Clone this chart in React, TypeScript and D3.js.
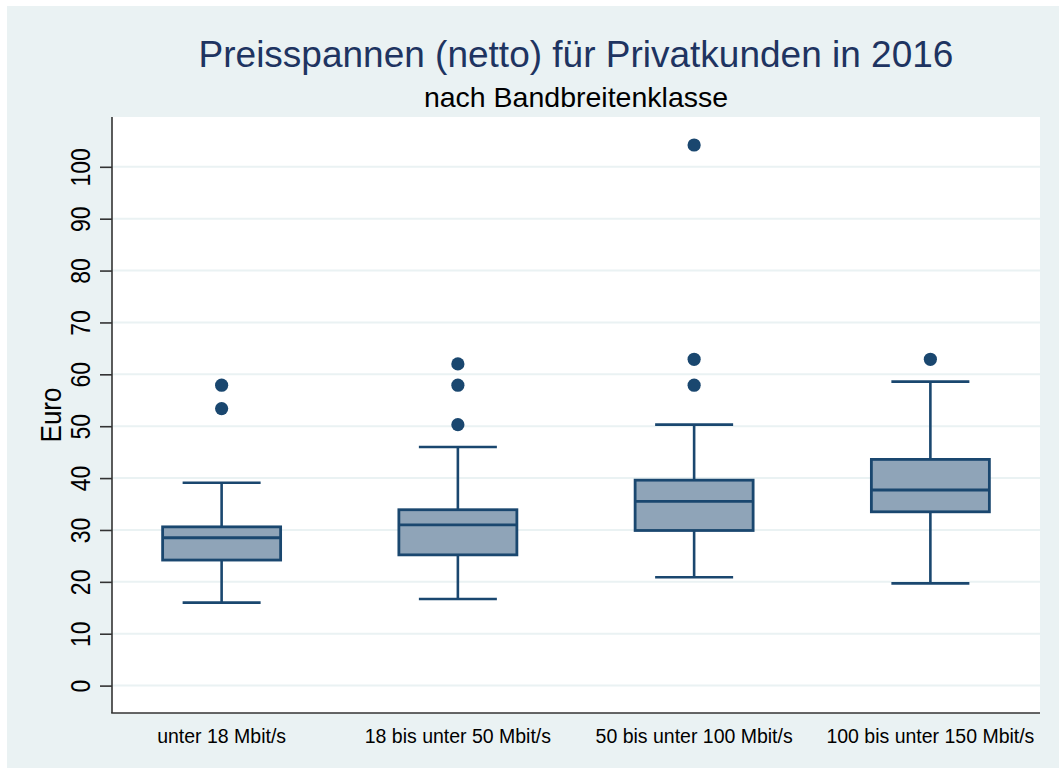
import { useEffect, useRef } from "react";
import * as d3 from "d3";

// values
const categories = [
  "unter 18 Mbit/s",
  "18 bis unter 50 Mbit/s",
  "50 bis unter 100 Mbit/s",
  "100 bis unter 150 Mbit/s",
];
const whiskerLow = [16.0, 16.7, 20.9, 19.7];
const q1 = [24.2, 25.2, 29.9, 33.5];
const median = [28.5, 31.0, 35.5, 37.7];
const q3 = [30.6, 33.9, 39.6, 43.6];
const whiskerHigh = [39.1, 46.0, 50.3, 58.6];
const outliers = [
  [53.4, 57.9],
  [50.3, 57.9, 62.0],
  [57.9, 62.9, 104.2],
  [62.9],
];
const yTicks = [0, 10, 20, 30, 40, 50, 60, 70, 80, 90, 100];

const title = "Preisspannen (netto) für Privatkunden in 2016";
const subtitle = "nach Bandbreitenklasse";
const yLabel = "Euro";

const App = () => {
  const svgRef = useRef<SVGSVGElement>(null);

  useEffect(() => {
    const w = 1059;
    const h = 769;
    const margin = { top: 117, right: 19, bottom: 56, left: 112 };
    const font = "'Liberation Sans', Arial, sans-serif";
    const navy = "#1a476f";

    const svg = d3.select(svgRef.current).attr("width", w).attr("height", h);
    svg.selectAll("*").remove();

    // outer background + plot region
    svg.append("rect")
      .attr("x", 7).attr("y", 6).attr("width", w - 7).attr("height", h - 7)
      .attr("fill", "#eaf2f3");
    svg.append("rect")
      .attr("x", margin.left).attr("y", margin.top)
      .attr("width", w - margin.left - margin.right)
      .attr("height", h - margin.top - margin.bottom)
      .attr("fill", "#ffffff");

    // scales
    const xScale = d3.scalePoint<string>()
      .domain(categories)
      .range([margin.left, w - margin.right])
      .padding(0.464);
    const yScale = d3.scaleLinear()
      .domain([-5.28, 109.6])
      .range([h - margin.bottom, margin.top]);

    // grid lines
    svg.append("g")
      .selectAll("line")
      .data(yTicks)
      .join("line")
      .attr("x1", margin.left).attr("x2", w - margin.right)
      .attr("y1", (d) => yScale(d)).attr("y2", (d) => yScale(d))
      .attr("stroke", "#eaf2f3")
      .attr("stroke-width", 2);

    // y axis
    const yAxis = d3.axisLeft(yScale).tickValues(yTicks).tickSize(12).tickPadding(0);
    const gy = svg.append("g")
      .attr("transform", `translate(${margin.left},0)`)
      .call(yAxis);
    gy.select(".domain")
      .attr("d", `M0,${margin.top}V${h - margin.bottom}`)
      .attr("stroke", "#333").attr("stroke-width", 1.6);
    gy.selectAll(".tick line").attr("stroke", "#333").attr("stroke-width", 1.6);
    gy.selectAll<SVGTextElement, number>(".tick text")
      .attr("x", null).attr("dy", null)
      .attr("transform", "translate(-22,0) rotate(-90) scale(1,1.18)")
      .attr("text-anchor", "middle")
      .style("font-family", font)
      .style("font-size", "23px")
      .attr("fill", "#000");

    // x axis line
    svg.append("line")
      .attr("x1", margin.left - 0.8).attr("x2", w - margin.right)
      .attr("y1", h - margin.bottom).attr("y2", h - margin.bottom)
      .attr("stroke", "#333").attr("stroke-width", 1.6);

    // x labels
    svg.append("g")
      .selectAll("text")
      .data(categories)
      .join("text")
      .attr("transform", (d) => `translate(${xScale(d)},742.5) scale(1,1.08)`)
      .attr("text-anchor", "middle")
      .style("font-family", font)
      .style("font-size", "19.5px")
      .text((d) => d);

    // boxes
    const boxW = 118;
    const capW = 78;
    const g = svg.append("g")
      .selectAll("g")
      .data(categories)
      .join("g")
      .attr("transform", (d) => `translate(${xScale(d)},0)`);

    // whiskers
    g.append("line")
      .attr("y1", (_d, i) => yScale(whiskerLow[i]))
      .attr("y2", (_d, i) => yScale(q1[i]))
      .attr("stroke", navy).attr("stroke-width", 2.6);
    g.append("line")
      .attr("y1", (_d, i) => yScale(q3[i]))
      .attr("y2", (_d, i) => yScale(whiskerHigh[i]))
      .attr("stroke", navy).attr("stroke-width", 2.6);
    g.append("line")
      .attr("x1", -capW / 2).attr("x2", capW / 2)
      .attr("y1", (_d, i) => yScale(whiskerLow[i]))
      .attr("y2", (_d, i) => yScale(whiskerLow[i]))
      .attr("stroke", navy).attr("stroke-width", 2.6);
    g.append("line")
      .attr("x1", -capW / 2).attr("x2", capW / 2)
      .attr("y1", (_d, i) => yScale(whiskerHigh[i]))
      .attr("y2", (_d, i) => yScale(whiskerHigh[i]))
      .attr("stroke", navy).attr("stroke-width", 2.6);

    g.append("rect")
      .attr("x", -boxW / 2)
      .attr("width", boxW)
      .attr("y", (_d, i) => yScale(q3[i]))
      .attr("height", (_d, i) => yScale(q1[i]) - yScale(q3[i]))
      .attr("fill", "#8fa4b8")
      .attr("stroke", navy)
      .attr("stroke-width", 2.8);
    g.append("line")
      .attr("x1", -boxW / 2).attr("x2", boxW / 2)
      .attr("y1", (_d, i) => yScale(median[i]))
      .attr("y2", (_d, i) => yScale(median[i]))
      .attr("stroke", navy).attr("stroke-width", 2.8);

    // outliers
    g.selectAll("circle")
      .data((_d, i) => outliers[i])
      .join("circle")
      .attr("cx", 0)
      .attr("cy", (d) => yScale(d))
      .attr("r", 6.6)
      .attr("fill", navy);

    // titles
    const cx = (margin.left + w - margin.right) / 2;
    svg.append("text")
      .attr("x", cx).attr("y", 66.5)
      .attr("text-anchor", "middle")
      .style("font-family", font)
      .style("font-size", "37px")
      .attr("fill", "#1e3461")
      .text(title);
    svg.append("text")
      .attr("x", cx).attr("y", 107)
      .attr("text-anchor", "middle")
      .style("font-family", font)
      .style("font-size", "28.5px")
      .attr("fill", "#000")
      .text(subtitle);

    svg.append("text")
      .attr("transform", `translate(60.5,${(margin.top + h - margin.bottom) / 2}) rotate(-90) scale(1,1.12)`)
      .attr("text-anchor", "middle")
      .style("font-family", font)
      .style("font-size", "26px")
      .attr("fill", "#000")
      .text(yLabel);
  }, []);

  return (
    <svg ref={svgRef} style={{ position: "absolute", left: 0, top: 0, display: "block" }}></svg>
  );
};

export default App;
